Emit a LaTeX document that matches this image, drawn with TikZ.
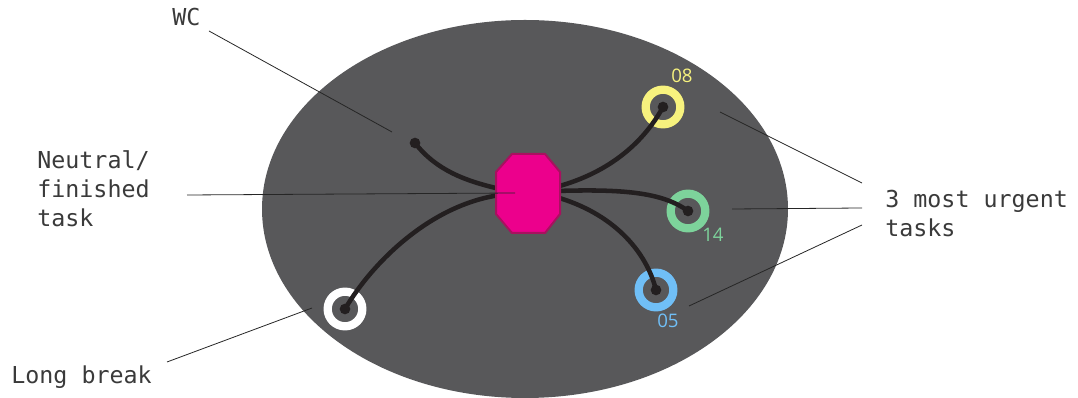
\documentclass[tikz,border=0pt]{standalone}
\usepackage{fontspec}
\setmonofont{DejaVu Sans Mono}
\newfontfamily\numfont{Open Sans}
\definecolor{blob}{HTML}{58585A}
\definecolor{tent}{HTML}{231F20}
\definecolor{mag}{HTML}{EC008C}
\definecolor{magdark}{HTML}{A8115F}
\definecolor{ryel}{HTML}{F7F27E}
\definecolor{rgreen}{HTML}{7DD39B}
\definecolor{rblue}{HTML}{70BFF7}
\definecolor{lbl}{HTML}{3A3A3A}
\begin{document}
\begin{tikzpicture}[x=0.75pt,y=-0.75pt,
  lab/.style={font=\ttfamily\fontsize{17.5}{21.75}\selectfont, text=lbl, inner sep=0pt, align=left, anchor=base west},
  num/.style={font=\numfont\fontsize{14}{16}\selectfont, inner sep=0pt, anchor=base west},
  ring/.style={draw=#1, line width=6.2pt, circle, minimum size=26pt, inner sep=0pt},
  tentacle/.style={draw=tent, line width=3.4pt, line cap=round},
  dot/.style={fill=tent, circle, minimum size=8pt, inner sep=0pt},
  leader/.style={draw=black!85, line width=0.6pt}]
\useasboundingbox (0,0) rectangle (1078,398);
% blob
\fill[blob] (525,209) ellipse [x radius=263, y radius=189];
\coordinate (octL1) at (500,189);
\coordinate (octL2) at (500,195);
\coordinate (octR1) at (556,187);
\coordinate (octR2) at (556,191);
\coordinate (octR3) at (556,197);
% rings
\node[ring=white] (rlb) at (345,309) {};
\node[ring=ryel] (r08) at (663,107) {};
\node[ring=rgreen] (r14) at (688,211) {};
\node[ring=rblue] (r05) at (656,290) {};
% tentacles
\draw[tentacle] (415,143) coordinate (wcdot) .. controls (436,170) and (465,181) .. (octL1);
\draw[tentacle] (rlb.center) .. controls (372,263) and (430,205) .. (octL2);
\draw[tentacle] (octR1) .. controls (612,172) and (645,140) .. (r08.center);
\draw[tentacle] (octR2) .. controls (622,189) and (662,192) .. (r14.center);
\draw[tentacle] (octR3) .. controls (612,213) and (646,250) .. (r05.center);
% octagon
\draw[fill=mag, draw=magdark, line width=1.5pt, line join=round]
  (512,154) -- (545,154) -- (560,172) -- (560,214) -- (545,233) -- (512,233) -- (496,214) -- (496,172) -- cycle;
\coordinate (oct) at (515,193);
\node[dot] (dwc) at (wcdot) {};
\node[dot] at (rlb.center) {};
\node[dot] at (r08.center) {};
\node[dot] at (r14.center) {};
\node[dot] at (r05.center) {};
% numbers
\node[num, text=ryel] (n08) at (671,83) {08};
\node[num, text=rgreen] (n14) at (702,242) {14};
\node[num, text=rblue] (n05) at (657,328) {05};
% labels
\node[lab] (wc) at (172,26) {WC};
\node[lab] (neu) at (37,227) {Neutral/\\finished\\task};
\node[lab] (lb) at (11,384) {Long break};
\node[lab] (urg) at (885,237) {3 most urgent\\tasks};
% leaders
\coordinate (wcA) at (209,31);
\coordinate (wcB) at (392,132);
\coordinate (neA) at (187,195);
\coordinate (lbA) at (167,362);
\coordinate (lbB) at (312,308);
\coordinate (uA) at (862,183);
\coordinate (uB) at (720,112);
\coordinate (uC) at (862,208);
\coordinate (uD) at (732,209);
\coordinate (uE) at (862,225);
\coordinate (uF) at (689,306);
\draw[leader] (wcA) -- (wcB);
\draw[leader] (neA) -- (oct);
\draw[leader] (lbA) -- (lbB);
\draw[leader] (uA) -- (uB);
\draw[leader] (uC) -- (uD);
\draw[leader] (uE) -- (uF);
\end{tikzpicture}
\end{document}
